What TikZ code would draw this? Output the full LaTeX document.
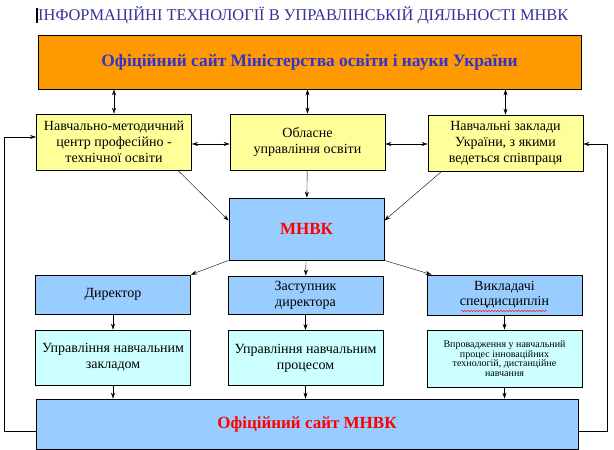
\documentclass[tikz,border=0pt]{standalone}
\usepackage{fontspec}
\setmainfont{Liberation Serif}
\usetikzlibrary{arrows.meta,decorations.pathmorphing}

\definecolor{siteorange}{HTML}{FF9900}
\definecolor{paleyellow}{HTML}{FFFF99}
\definecolor{paleblue}{HTML}{99CCFF}
\definecolor{palecyan}{HTML}{CCFFFF}
\definecolor{titleblue}{HTML}{333399}
\definecolor{siteblue}{HTML}{3333CC}
\definecolor{mnvkred}{HTML}{FF0000}

\begin{document}
\begin{tikzpicture}[x=1pt, y=-1pt, >={Stealth[length=6pt,width=4pt]},
      every node/.style = {align=center, inner sep=0pt},
      box/.style = {draw, line width=0.8pt,
        font=\fontsize{14}{16}\selectfont},
      yellowbox/.style = {box, fill=paleyellow,
        minimum width=155pt, minimum height=56pt},
      bluebox/.style = {box, fill=paleblue, minimum width=155pt},
      cyanbox/.style = {box, fill=palecyan,
        minimum width=155pt, minimum height=55pt},
      redtext/.style = {text=mnvkred, font=\fontsize{17}{20}\bfseries}]
  \useasboundingbox (0,0) rectangle (614,450);

  % title
  \draw[line width=1.4pt] (37,8) -- (37,23);
  \node[anchor=west, text=titleblue, font=\fontsize{16.4}{16}\selectfont]
    (title) at (38,15) {ІНФОРМАЦІЙНІ ТЕХНОЛОГІЇ В УПРАВЛІНСЬКІЙ ДІЯЛЬНОСТІ МНВК};

  % top row
  \node[box, fill=siteorange, minimum width=543pt, minimum height=54pt,
    text=siteblue, font=\fontsize{17.4}{18}\bfseries]
    (ministry) at (309.5,62) {Офіційний сайт Міністерства освіти і науки України};
  \node[yellowbox] (centre) at (114,142)
    {Навчально-методичний\\центр професійно -\\технічної освіти};
  \node[yellowbox] (oblast) at (307.5,142) {Обласне\\управління освіти};
  \node[yellowbox] (schools) at (505.5,143)
    {Навчальні заклади\\України, з якими\\ведеться співпраця};

  % MNVK and its staff
  \node[bluebox, minimum height=62pt, redtext] (mnvk) at (306.5,229) {МНВК};
  \node[bluebox, minimum height=39pt] (director) at (113,294.5) {Директор};
  \node[bluebox, minimum height=38pt] (deputy) at (305.5,295)
    {Заступник\\директора};
  \node[bluebox, minimum height=40pt, font=\fontsize{14}{15}\selectfont]
    (teachers) at (504.5,295) {Викладачі\\спецдисциплін};
  \draw[mnvkred, line width=0.4pt, decorate,
    decoration={snake, amplitude=0.7pt, segment length=3pt}]
    (461,311) -- (547,311);

  \node[cyanbox] (manage) at (113,357.5) {Управління навчальним\\закладом};
  \node[cyanbox] (process) at (305.5,358) {Управління навчальним\\процесом};
  \node[cyanbox, minimum height=57pt, font=\fontsize{10}{9.5}\selectfont]
    (innov) at (504.5,358.5)
    {Впровадження у навчальний\\процес інноваційних\\технологій, дистанційне\\навчання};

  \node[bluebox, minimum width=542pt, minimum height=50pt, redtext]
    (mnvksite) at (307,424) {Офіційний сайт МНВК};

  % connectors
  \draw[<->] (centre.north |- ministry.south) -- (centre.north);
  \draw[<->] (oblast.north |- ministry.south) -- (oblast.north);
  \draw[<->] (schools.north |- ministry.south) -- (schools.north);
  \draw[<->] ([yshift=-2pt]centre.east) -- ([yshift=-2pt]oblast.west);
  \draw[<->] ([yshift=-2pt]oblast.east) -- ([yshift=-1pt]schools.west);
  \draw[->] ([xshift=-14pt]centre.south east) -- ([yshift=-23pt]mnvk.north west);
  \draw[->] (oblast) -- (mnvk);
  \draw[->] ([xshift=14pt]schools.south west) -- ([yshift=-23pt]mnvk.north east);

  \draw[->] (mnvk.south west) -- (director.north east);
  \draw[->] (mnvk) -- (deputy);
  \draw[->] (mnvk.south east) -- ([xshift=5pt]teachers.north west);
  \draw[->] (director) -- (manage);
  \draw[->] (deputy) -- (process);
  \draw[->] (teachers) -- (innov);
  \draw[->] (manage.south) -- (manage.south |- mnvksite.north);
  \draw[->] (process.south) -- (process.south |- mnvksite.north);
  \draw[->] (innov.south) -- (innov.south |- mnvksite.north);

  % feedback from the MNVK site
  \draw[->] ([yshift=-7pt]mnvksite.west) -- ++(-31,0) |- ([yshift=5pt]centre.west);
  \draw[->] ([yshift=-7pt]mnvksite.east) -- ++(29,0) |- ([yshift=-1pt]schools.east);
\end{tikzpicture}
\end{document}
